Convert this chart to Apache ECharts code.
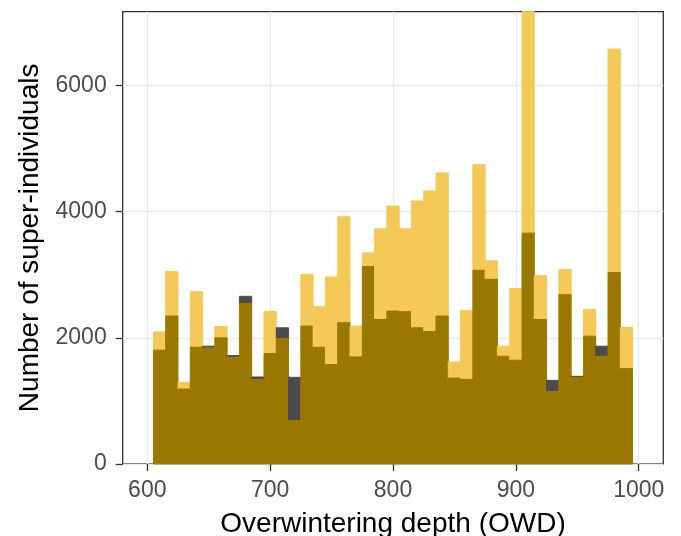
<!DOCTYPE html>
<html>
<head>
<meta charset="utf-8">
<script src="https://cdn.jsdelivr.net/npm/echarts@6/dist/echarts.min.js"></script>
<style>
  html, body { margin: 0; padding: 0; background: #ffffff; }
  #chart { width: 681px; height: 536px; }
</style>
</head>
<body>
<div id="chart"></div>
<script>
// Bin centres (bin width 10)
const binCenters = [610, 620, 630, 640, 650, 660, 670, 680, 690, 700,
  710, 720, 730, 740, 750, 760, 770, 780, 790, 800,
  810, 820, 830, 840, 850, 860, 870, 880, 890, 900,
  910, 920, 930, 940, 950, 960, 970, 980, 990];
const binWidth = 10;

// Yellow (gold) histogram counts
const yellowCounts = [2095, 3050, 1294, 2732, 1841, 2180, 1692, 2546, 1342, 2419,
  1989, 690, 3008, 2493, 2965, 3920, 2186, 3347, 3729, 4090,
  3729, 4170, 4329, 4615, 1618, 2435, 4748, 3220, 1867, 2780,
  7400, 2987, 1151, 3082, 1374, 2451, 1708, 6578, 2164];

// Dark (grey) histogram counts
const darkCounts = [1804, 2345, 1188, 1851, 1867, 2000, 1719, 2658, 1379, 1751,
  2159, 1374, 2186, 1851, 1576, 2239, 1698, 3130, 2292, 2424,
  2414, 2159, 2101, 2345, 1363, 1342, 3072, 2928, 1708, 1645,
  3660, 2292, 1326, 2684, 1390, 2026, 1867, 3034, 1512];

const xTicks = [600, 700, 800, 900, 1000];
const yTicks = [0, 2000, 4000, 6000];

const COLOR_YELLOW = '#f4c957';
const COLOR_DARK = '#4b4b4d';
const COLOR_OVERLAP = '#9a7800';

const seriesData = binCenters.map((c, i) => [c, yellowCounts[i], darkCounts[i]]);

const chart = echarts.init(document.getElementById('chart'), null, { renderer: 'canvas' });

function renderItem(params, api) {
  const x = api.value(0);
  const a = api.value(1);
  const b = api.value(2);
  const lo = Math.min(a, b);
  const hi = Math.max(a, b);
  const p0 = api.coord([x - binWidth / 2, 0]);
  const pLo = api.coord([x + binWidth / 2, lo]);
  const pHi = api.coord([x + binWidth / 2, hi]);
  const cs = params.coordSys;
  const clip = { x: cs.x, y: cs.y, width: cs.width, height: cs.height };
  const r1 = echarts.graphic.clipRectByRect({
    x: p0[0], y: pLo[1], width: pLo[0] - p0[0], height: p0[1] - pLo[1]
  }, clip);
  const r2 = echarts.graphic.clipRectByRect({
    x: p0[0], y: pHi[1], width: pHi[0] - p0[0], height: pLo[1] - pHi[1]
  }, clip);
  const children = [];
  const topColor = a > b ? COLOR_YELLOW : COLOR_DARK;
  if (r2) children.push({ type: 'rect', shape: r2, style: { fill: topColor, stroke: topColor, lineWidth: 1 } });
  if (r1) children.push({ type: 'rect', shape: r1, style: { fill: COLOR_OVERLAP, stroke: COLOR_OVERLAP, lineWidth: 1 } });
  return { type: 'group', children };
}

const option = {
  animation: false,
  backgroundColor: '#ffffff',
  grid: {
    left: 122.7, right: 17.7, top: 11.7, bottom: 72,
    containLabel: false, outerBoundsMode: 'none',
    show: true, borderColor: '#333333', borderWidth: 1.3, backgroundColor: 'transparent'
  },
  xAxis: {
    type: 'value', min: 580, max: 1020,
    name: 'Overwintering depth (OWD)', nameLocation: 'middle', nameGap: 46,
    nameTextStyle: { fontFamily: 'Liberation Sans', fontSize: 28, color: '#000000' },
    axisLine: { show: false },
    axisTick: { show: true, customValues: xTicks, length: 7, lineStyle: { color: '#333333', width: 1.3 } },
    axisLabel: { customValues: xTicks, margin: 15, fontFamily: 'Liberation Sans', fontSize: 23, color: '#4d4d4d',
      formatter: v => String(v) },
    splitLine: { show: true, lineStyle: { color: '#ebebeb', width: 1.4 } }
  },
  yAxis: {
    type: 'value', min: 0, max: 7170,
    name: 'Number of super-individuals', nameLocation: 'middle', nameGap: 78,
    nameTextStyle: { fontFamily: 'Liberation Sans', fontSize: 28, color: '#000000' },
    axisLine: { show: false },
    axisTick: { show: true, customValues: yTicks, length: 7, lineStyle: { color: '#333333', width: 1.3 } },
    axisLabel: { customValues: yTicks, margin: 16, fontFamily: 'Liberation Sans', fontSize: 23, color: '#4d4d4d',
      formatter: v => String(v) },
    splitLine: { show: true, lineStyle: { color: '#ebebeb', width: 1.4 } }
  },
  series: [{
    type: 'custom',
    renderItem: renderItem,
    encode: { x: 0, y: [1, 2] },
    data: seriesData,
    z: 3
  }]
};

chart.setOption(option);
</script>
</body>
</html>
